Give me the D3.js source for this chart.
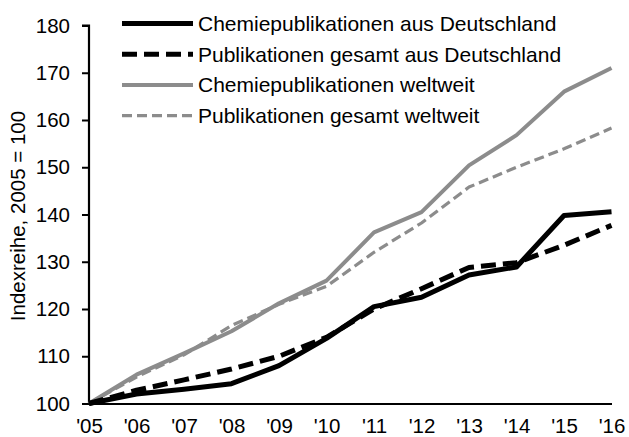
<!DOCTYPE html>
<html>
<head>
<meta charset="utf-8">
<script src="https://cdn.jsdelivr.net/npm/d3@7"></script>
<style>
  body { margin: 0; background: #fff; }
  text { font-family: Arial, "Liberation Sans", sans-serif; fill: #000; }
</style>
</head>
<body>
<svg></svg>
<script>
const years = ["'05", "'06", "'07", "'08", "'09", "'10", "'11", "'12", "'13", "'14", "'15", "'16"]

const chemDE = [100, 102, 103, 104.2, 108, 113.8, 120.5, 122.5, 127.2, 128.9, 139.8, 140.6]
const allDE = [100, 102.8, 105, 107.3, 110, 114, 120, 124.3, 128.8, 129.8, 133.5, 137.7]
const chemWorld = [100, 106.1, 110.6, 115.3, 121.2, 126, 136.2, 140.5, 150.4, 156.8, 166, 171]
const allWorld = [100, 105.6, 110.3, 116.5, 121, 124.8, 132, 138.2, 145.8, 150, 153.9, 158.3]

const yTicks = [100, 110, 120, 130, 140, 150, 160, 170, 180]

const series = [
  { name: "Chemiepublikationen aus Deutschland", values: chemDE, color: "#000", width: 5, dash: null },
  { name: "Publikationen gesamt aus Deutschland", values: allDE, color: "#000", width: 5, dash: "15,7" },
  { name: "Chemiepublikationen weltweit", values: chemWorld, color: "#8c8c8c", width: 4, dash: null },
  { name: "Publikationen gesamt weltweit", values: allWorld, color: "#8c8c8c", width: 3.2, dash: "10,5" }
]

const width = 629
const height = 437

const svg = d3.select("svg")
  .attr("width", width)
  .attr("height", height)

const x = d3.scalePoint()
  .domain(years)
  .range([89, 611.5])

const y = d3.scaleLinear()
  .domain([100, 180])
  .range([403.5, 25.5])

// y axis
svg.append("g")
  .attr("transform", "translate(89,0)")
  .call(d3.axisLeft(y).tickValues(yTicks).tickSize(7).tickPadding(12))
  .call(g => g.select(".domain").attr("stroke-width", 2.2).attr("d", "M-7,25.5H0V403.5"))
  .call(g => g.selectAll(".tick line").attr("stroke-width", 2))
  .call(g => g.selectAll(".tick text").attr("font-size", 20.5))

// x axis
svg.append("g")
  .attr("transform", "translate(0,403.5)")
  .call(d3.axisBottom(x).tickSize(0).tickPadding(15))
  .call(g => g.select(".domain").attr("stroke-width", 2.2))
  .call(g => g.selectAll(".tick text").attr("font-size", 20.5))

svg.append("text")
  .attr("transform", "translate(25,216) rotate(-90)")
  .attr("text-anchor", "middle")
  .attr("font-size", 20.5)
  .text("Indexreihe, 2005 = 100")

const line = d3.line()
  .x((d, i) => x(years[i]))
  .y(d => y(d))

svg.append("g")
  .selectAll("path")
  .data(series.slice().reverse())
  .join("path")
  .attr("d", d => line(d.values))
  .attr("fill", "none")
  .attr("stroke", d => d.color)
  .attr("stroke-width", d => d.width)
  .attr("stroke-dasharray", d => d.dash)
  .attr("stroke-linejoin", "round")

// legend
const legend = svg.append("g")
  .selectAll("g")
  .data(series)
  .join("g")
  .attr("transform", (d, i) => `translate(122,${23.5 + i * 30.7})`)

legend.append("line")
  .attr("x1", 0)
  .attr("x2", 71)
  .attr("stroke", d => d.color)
  .attr("stroke-width", d => d.width)
  .attr("stroke-dasharray", d => d.dash)

legend.append("text")
  .attr("x", 76)
  .attr("dy", "0.35em")
  .attr("font-size", 21)
  .text(d => d.name)
</script>
</body>
</html>
